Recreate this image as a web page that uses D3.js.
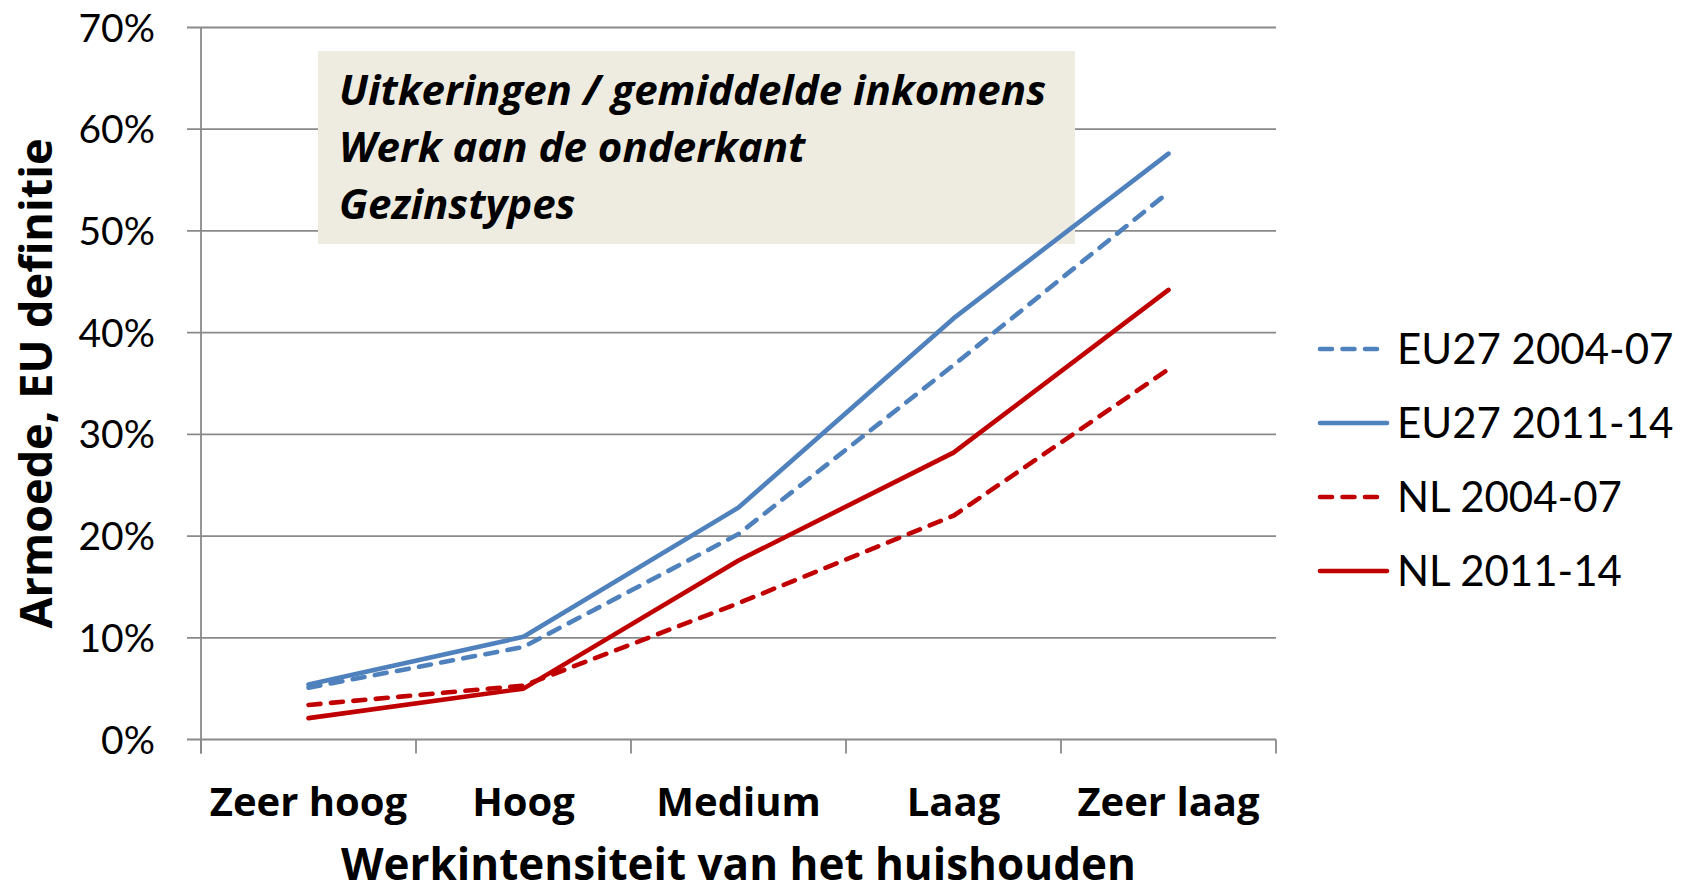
<!DOCTYPE html>
<html>
<head>
<meta charset="utf-8">
<script src="https://cdn.jsdelivr.net/npm/d3@7"></script>
<style>
  html, body { margin: 0; padding: 0; background: #fff; }
  svg { display: block; }
  text { font-family: Lato, "Open Sans", sans-serif; fill: #000; }
  text.b { font-family: "Open Sans", Lato, sans-serif; font-weight: bold; }
</style>
</head>
<body>
<svg id="chart" width="1684" height="892"></svg>
<script>
const categories = ["Zeer hoog", "Hoog", "Medium", "Laag", "Zeer laag"];
const seriesNames = ["EU27 2004-07", "EU27 2011-14", "NL 2004-07", "NL 2011-14"];
const eu2004 = [0.051, 0.091, 0.202, 0.368, 0.538];
const eu2011 = [0.054, 0.101, 0.228, 0.414, 0.576];
const nl2004 = [0.034, 0.053, 0.134, 0.220, 0.364];
const nl2011 = [0.021, 0.050, 0.176, 0.282, 0.442];
const yTicks = [0, 0.1, 0.2, 0.3, 0.4, 0.5, 0.6, 0.7];
const noteLines = ["Uitkeringen / gemiddelde inkomens", "Werk aan de onderkant", "Gezinstypes"];
const yTitle = "Armoede, EU definitie";
const xTitle = "Werkintensiteit van het huishouden";

const series = [
  { name: seriesNames[0], values: eu2004, color: "#4F81BD", dashed: true },
  { name: seriesNames[1], values: eu2011, color: "#4F81BD", dashed: false },
  { name: seriesNames[2], values: nl2004, color: "#C00000", dashed: true },
  { name: seriesNames[3], values: nl2011, color: "#C00000", dashed: false }
];

const svg = d3.select("#chart");
const pLeft = 201, pRight = 1276, pTop = 27.5, pBottom = 739.5;
const x = d3.scaleBand().domain(categories).range([pLeft, pRight]).paddingInner(0).paddingOuter(0);
const y = d3.scaleLinear().domain([0, 0.7]).range([pBottom, pTop]);
const gridColor = "#8a8a8a";

// gridlines (incl. outward tick)
svg.append("g").selectAll("line").data(yTicks).join("line")
  .attr("x1", pLeft - 14).attr("x2", pRight)
  .attr("y1", d => y(d)).attr("y2", d => y(d))
  .attr("stroke", gridColor).attr("stroke-width", 1.8);

// y axis line
svg.append("line").attr("x1", pLeft).attr("x2", pLeft).attr("y1", pTop).attr("y2", pBottom + 14)
  .attr("stroke", gridColor).attr("stroke-width", 1.8);

// x ticks at band boundaries
const xEdges = categories.map(c => x(c)).concat([pRight]);
svg.append("g").selectAll("line").data(xEdges).join("line")
  .attr("x1", d => d).attr("x2", d => d)
  .attr("y1", pBottom).attr("y2", pBottom + 14)
  .attr("stroke", gridColor).attr("stroke-width", 1.8);

// y tick labels
svg.append("g").selectAll("text").data(yTicks).join("text")
  .attr("x", 155).attr("y", d => y(d) + 14)
  .attr("text-anchor", "end")
  .attr("font-size", 39)
  .text(d3.format(".0%"));

// x category labels
svg.append("g").selectAll("text").data(categories).join("text")
  .attr("class", "b")
  .attr("x", d => x(d) + x.bandwidth() / 2).attr("y", 816)
  .attr("text-anchor", "middle")
  .attr("font-size", 40)
  .text(d => d);

// axis titles
svg.append("text").attr("class", "b").attr("x", (pLeft + pRight) / 2).attr("y", 880)
  .attr("text-anchor", "middle").attr("font-size", 44)
  .text(xTitle);
svg.append("text").attr("class", "b")
  .attr("transform", `translate(52,${(pTop + pBottom) / 2}) rotate(-90)`)
  .attr("text-anchor", "middle").attr("font-size", 45)
  .text(yTitle);

// annotation box
svg.append("rect").attr("x", 318).attr("y", 51).attr("width", 757).attr("height", 193)
  .attr("fill", "#EEECE1");
svg.append("g").selectAll("text").data(noteLines).join("text")
  .attr("class", "b")
  .attr("x", 339).attr("y", (d, i) => 105 + i * 57)
  .attr("font-size", 42).attr("font-style", "italic")
  .text(d => d);

// lines
const line = d3.line()
  .x((d, i) => x(categories[i]) + x.bandwidth() / 2)
  .y(d => y(d));
svg.append("g").selectAll("path").data(series).join("path")
  .attr("d", d => line(d.values))
  .attr("fill", "none")
  .attr("stroke", d => d.color)
  .attr("stroke-width", 4.6)
  .attr("stroke-linecap", "round")
  .attr("stroke-linejoin", "round")
  .attr("stroke-dasharray", d => d.dashed ? "12,10.5" : null);

// legend
const lg = svg.append("g").selectAll("g").data(series).join("g")
  .attr("transform", (d, i) => `translate(0,${349 + i * 74})`);
lg.append("line")
  .attr("x1", 1320).attr("x2", d => d.dashed ? 1378 : 1387)
  .attr("y1", 0).attr("y2", 0)
  .attr("stroke", d => d.color).attr("stroke-width", 4.6)
  .attr("stroke-linecap", "round")
  .attr("stroke-dasharray", d => d.dashed ? "12,10.5" : null);
lg.append("text").attr("x", 1397).attr("y", 15)
  .attr("font-size", 42)
  .text(d => d.name);
</script>
</body>
</html>
